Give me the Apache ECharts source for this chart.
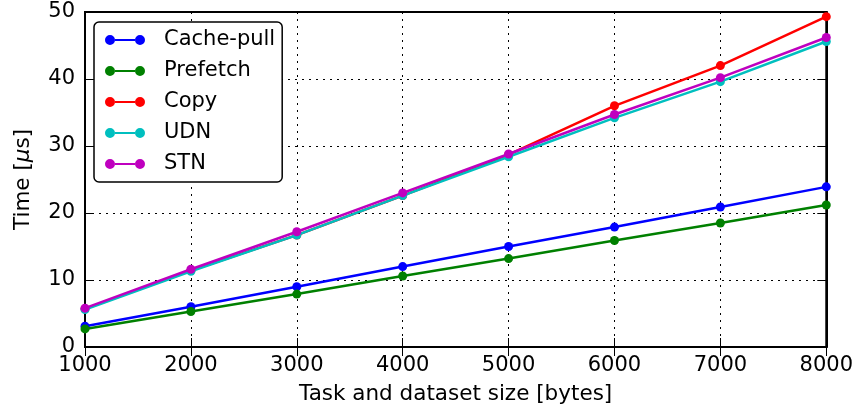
<!DOCTYPE html>
<html>
<head>
<meta charset="utf-8">
<script src="https://cdn.jsdelivr.net/npm/echarts@6/dist/echarts.min.js"></script>
<style>html,body{margin:0;padding:0;background:#fff;}#c{width:856px;height:412px;}</style>
</head>
<body>
<div id="c"></div>
<script>
const sizes = [1000, 2000, 3000, 4000, 5000, 6000, 7000, 8000];
const cachePull = [3.1, 6.0, 9.0, 12.0, 15.0, 17.9, 20.9, 23.9];
const prefetch = [2.7, 5.3, 7.9, 10.6, 13.2, 15.9, 18.5, 21.2];
const copy = [5.7, 11.4, 16.7, 22.6, 28.7, 36.0, 42.0, 49.3];
const udn = [5.6, 11.3, 16.7, 22.6, 28.4, 34.2, 39.6, 45.6];
const stn = [5.8, 11.6, 17.2, 23.0, 28.8, 34.7, 40.2, 46.2];
const seriesNames = ['Cache-pull', 'Prefetch', 'Copy', 'UDN', 'STN'];
const seriesColors = ['#0000ff', '#008000', '#ff0000', '#00bfbf', '#bf00bf'];
const seriesValues = [cachePull, prefetch, copy, udn, stn];

const FONT = 'DejaVu Sans';
const TICK_FS = 21;
const chart = echarts.init(document.getElementById('c'), null, {renderer: 'canvas'});
const legendIcon = 'path://M0,5A5,5,0,1,1,10,5A5,5,0,1,1,0,5ZM10,4L30,4L30,6L10,6ZM30,5A5,5,0,1,1,40,5A5,5,0,1,1,30,5Z';

const commonX = {type: 'value', min: 1000, max: 8000, interval: 1000};
const commonY = {type: 'value', min: 0, max: 50, interval: 10};
const tickStyle = {show: true, inside: true, length: 9, lineStyle: {color: '#000', width: 1}};
const axisLineStyle = {show: true, lineStyle: {color: '#000', width: 2}};
const gridLine = {show: true, lineStyle: {color: '#000', width: 1, type: [2, 5]}};

chart.setOption({
  animation: false,
  backgroundColor: '#fff',
  textStyle: {fontFamily: FONT},
  grid: {left: 85, right: 28, top: 12, bottom: 65, show: true, borderColor: '#000', borderWidth: 2, containLabel: false},
  legend: {
    orient: 'vertical', left: 94, top: 22,
    icon: legendIcon, itemWidth: 40, itemHeight: 10, itemGap: 7,
    padding: [6, 7, 6, 11],
    borderColor: '#000', borderWidth: 1.5, borderRadius: 5, backgroundColor: '#fff',
    textStyle: {fontFamily: FONT, fontSize: 21, color: '#000', lineHeight: 24, padding: [0, 0, 0, 14]},
    data: seriesNames
  },
  xAxis: [
    Object.assign({}, commonX, {
      position: 'bottom',
      name: 'Task and dataset size [bytes]', nameLocation: 'middle', nameGap: 36,
      nameTextStyle: {fontFamily: FONT, fontSize: 21.5, color: '#000'},
      axisLine: axisLineStyle,
      axisTick: tickStyle,
      axisLabel: {fontFamily: FONT, fontSize: TICK_FS, color: '#000', margin: 8, formatter: v => String(v)},
      splitLine: gridLine
    }),
    Object.assign({}, commonX, {
      position: 'top', axisLine: axisLineStyle, axisTick: tickStyle,
      axisLabel: {show: false}, splitLine: {show: false}
    })
  ],
  yAxis: [
    Object.assign({}, commonY, {
      position: 'left',
      name: 'Time [{i|μ}s]', nameLocation: 'middle', nameGap: 51, nameRotate: 90,
      nameTextStyle: {fontFamily: FONT, fontSize: 21.5, color: '#000',
        rich: {i: {fontFamily: FONT, fontSize: 21.5, fontStyle: 'italic', color: '#000'}}},
      axisLine: axisLineStyle,
      axisTick: tickStyle,
      axisLabel: {fontFamily: FONT, fontSize: TICK_FS, color: '#000', margin: 10, formatter: v => String(v)},
      splitLine: gridLine
    }),
    Object.assign({}, commonY, {
      position: 'right', axisLine: axisLineStyle, axisTick: tickStyle,
      axisLabel: {show: false}, splitLine: {show: false}
    })
  ],
  series: seriesNames.map((name, i) => ({
    name: name,
    type: 'line',
    xAxisIndex: 0, yAxisIndex: 0,
    data: sizes.map((x, j) => [x, seriesValues[i][j]]),
    symbol: 'circle', symbolSize: 9,
    showSymbol: true,
    color: seriesColors[i],
    lineStyle: {color: seriesColors[i], width: 2.5},
    itemStyle: {color: seriesColors[i], borderWidth: 0},
    z: 2 + i,
    clip: false
  }))
});
</script>
</body>
</html>
